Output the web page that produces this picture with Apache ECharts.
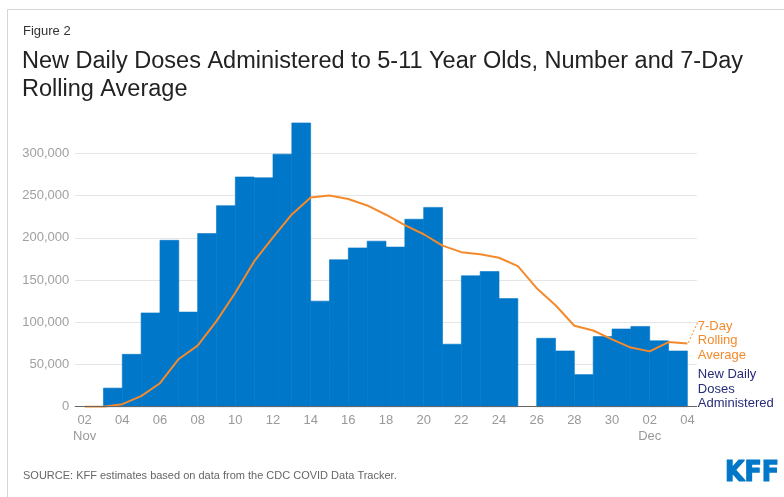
<!DOCTYPE html>
<html>
<head>
<meta charset="utf-8">
<script src="https://cdn.jsdelivr.net/npm/echarts@6/dist/echarts.min.js"></script>
<style>
  html, body { margin: 0; padding: 0; background: #fff; }
  #chart { width: 784px; height: 497px; }
</style>
</head>
<body>
<div id="chart"></div>
<script>
// Days plotted, Nov 2 through Dec 4 (x position = index in this list)
const dates = [
  'Nov 2', 'Nov 3', 'Nov 4', 'Nov 5', 'Nov 6', 'Nov 7', 'Nov 8', 'Nov 9', 'Nov 10',
  'Nov 11', 'Nov 12', 'Nov 13', 'Nov 14', 'Nov 15', 'Nov 16', 'Nov 17', 'Nov 18',
  'Nov 19', 'Nov 20', 'Nov 21', 'Nov 22', 'Nov 23', 'Nov 24', 'Nov 25', 'Nov 26',
  'Nov 27', 'Nov 28', 'Nov 29', 'Nov 30', 'Dec 1', 'Dec 2', 'Dec 3', 'Dec 4'
];

// New daily doses administered (each bar covers the day ending at its date)
const dailyDoses = [
  0, 0, 22000, 62000, 111000, 197000, 112000, 205000, 238000, 272000,
  271000, 299000, 336000, 125000, 174000, 188000, 196000, 189000, 222000, 236000,
  74000, 155000, 160000, 128000, 0, 81000, 66000, 38000, 83000, 92000,
  95000, 78000, 66000
];

// 7-day rolling average
const rollingAvg = [
  0, 0, 3000, 12500, 27800, 56500, 72300, 101300, 135000, 172000,
  200500, 227600, 247700, 250000, 246000, 238300, 227300, 215000, 204200, 190700,
  183000, 180500, 176400, 166500, 140300, 120100, 95800, 90200, 79800, 70000,
  65500, 76500, 74700
];

// Axis tick positions (day index) and their labels
const tickDays = [0, 2, 4, 6, 8, 10, 12, 14, 16, 18, 20, 22, 24, 26, 28, 30, 32];
const tickLabels = ['02\nNov', '04', '06', '08', '10', '12', '14', '16', '18', '20',
  '22', '24', '26', '28', '30', '02\nDec', '04'];

const FONT = '"Liberation Sans", Arial, Helvetica, sans-serif';
const BLUE = '#0077c8';
const ORANGE = '#f48a2b';
const NAVY = '#262c78';

const chart = echarts.init(document.getElementById('chart'), null, { renderer: 'canvas' });

chart.setOption({
  animation: false,
  backgroundColor: '#fff',
  textStyle: { fontFamily: FONT },
  title: [
    {
      text: 'Figure 2', left: 23, top: 25, padding: 0,
      textStyle: { fontSize: 13, fontWeight: 'normal', color: '#333', fontFamily: FONT }
    },
    {
      text: 'New Daily Doses Administered to 5-11 Year Olds, Number and 7-Day\nRolling Average',
      left: 22, top: 47.5, padding: 0,
      textStyle: { fontSize: 23.5, lineHeight: 28, fontWeight: 'normal', color: '#222', fontFamily: FONT }
    },
    {
      text: 'SOURCE: KFF estimates based on data from the CDC COVID Data Tracker.',
      left: 23, top: 470, padding: 0,
      textStyle: { fontSize: 11, fontWeight: 'normal', color: '#666', fontFamily: FONT }
    }
  ],
  grid: { left: 75.2, right: 87.2, top: 111.1, bottom: 90.3, containLabel: false },
  xAxis: {
    type: 'value',
    min: -0.5,
    max: 32.5,
    z: 5,
    axisLine: { show: true, lineStyle: { color: '#666', width: 1 } },
    axisTick: { show: false },
    splitLine: { show: false },
    axisLabel: {
      customValues: tickDays,
      formatter: v => tickLabels[tickDays.indexOf(v)],
      color: '#999', fontSize: 13, lineHeight: 16, margin: 6, fontFamily: FONT
    }
  },
  yAxis: {
    type: 'value',
    min: 0,
    max: 350000,
    interval: 50000,
    axisLine: { show: false },
    axisTick: { show: false },
    splitLine: { show: true, showMaxLine: false, lineStyle: { color: '#e5e5e5', width: 1 } },
    axisLabel: {
      showMaxLabel: false,
      color: '#a0a0a0', fontSize: 13, margin: 6, fontFamily: FONT,
      formatter: v => v.toLocaleString('en-US')
    }
  },
  series: [
    {
      name: 'New Daily Doses Administered',
      type: 'custom',
      z: 2,
      data: dailyDoses.map((v, i) => [i, v]),
      encode: { x: 0, y: 1 },
      renderItem: (params, api) => {
        const i = api.value(0);
        const v = api.value(1);
        if (!(v > 0)) return null;
        const topLeft = api.coord([i - 1, v]);
        const bottomRight = api.coord([i, 0]);
        return {
          type: 'rect',
          shape: {
            x: topLeft[0],
            y: topLeft[1],
            width: bottomRight[0] - topLeft[0],
            height: bottomRight[1] - topLeft[1]
          },
          style: { fill: BLUE, stroke: BLUE, lineWidth: 0.6 }
        };
      }
    },
    {
      name: '7-Day Rolling Average',
      type: 'line',
      z: 4,
      data: rollingAvg.map((v, i) => [i, v]),
      showSymbol: false,
      lineStyle: { color: ORANGE, width: 2 },
      itemStyle: { color: ORANGE }
    }
  ]
});

// Direct series labels at the right end of the plot, placed from the axis scales
const last = rollingAvg.length - 1;
const endPt = chart.convertToPixel({ gridIndex: 0 }, [last, rollingAvg[last]]);
const baseEnd = chart.convertToPixel({ gridIndex: 0 }, [last + 0.5, 0]);
const labelX = baseEnd[0] + 1;
const LH = 14.6;
const avgFirstCenter = endPt[1] - 17.5;
const dosesLastCenter = baseEnd[1] - 3;

chart.setOption({
  graphic: [
    {
      id: 'frame', type: 'rect', silent: true, z: -10,
      shape: { x: 7.5, y: 9.5, width: 900, height: 700 },
      style: { fill: 'none', stroke: '#d6d6d6', lineWidth: 1 }
    },
    {
      id: 'avgLabel', type: 'text', z: 10,
      style: {
        text: '7-Day\nRolling\nAverage',
        x: labelX, y: avgFirstCenter - LH / 2,
        font: '13px ' + FONT, lineHeight: LH, fill: ORANGE,
        verticalAlign: 'top', align: 'left'
      }
    },
    {
      id: 'avgLeader', type: 'line', z: 10,
      shape: { x1: endPt[0] + 1, y1: endPt[1] - 1, x2: labelX, y2: avgFirstCenter - 4 },
      style: { stroke: ORANGE, lineWidth: 1, lineDash: [2, 2] }
    },
    {
      id: 'dosesLabel', type: 'text', z: 10,
      style: {
        text: 'New Daily\nDoses\nAdministered',
        x: labelX, y: dosesLastCenter - 2 * LH - LH / 2,
        font: '13px ' + FONT, lineHeight: LH, fill: NAVY,
        verticalAlign: 'top', align: 'left'
      }
    },
    {
      id: 'logo', type: 'text', z: 10,
      style: {
        text: 'KFF', x: 779, y: 474,
        font: 'bold 28px "DejaVu Sans Condensed", "Liberation Sans Narrow", ' + FONT,
        fill: BLUE, stroke: BLUE, lineWidth: 1.2, align: 'right', verticalAlign: 'middle'
      }
    }
  ]
});
</script>
</body>
</html>
